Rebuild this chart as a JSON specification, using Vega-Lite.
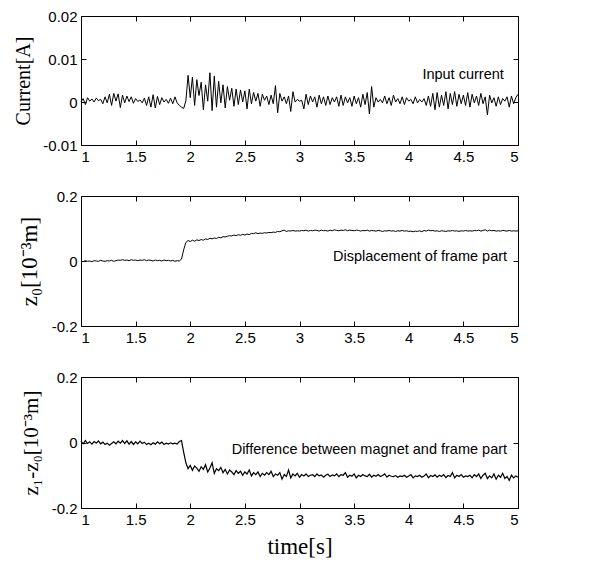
{
"$schema": "https://vega.github.io/schema/vega-lite/v6.json",
"padding": {"left": 12, "top": 8, "right": 6, "bottom": 5},
"background": "white",
"bounds": "flush",
"spacing": 51,
"config": {
  "view": {"stroke": "black", "strokeWidth": 1},
  "axis": {"grid": false, "domain": false, "tickColor": "black", "tickSize": -5, "labelPadding": 9,
           "labelFont": "Liberation Sans", "labelFontSize": 15, "labelColor": "black",
           "titleFont": "Liberation Serif", "titleFontSize": 20, "titleFontWeight": "normal", "titleColor": "black"}
},
"data": {"values": [
{"t":1.00,"c":0.0000,"z":0.000,"d":0.004},{"t":1.02,"c":0.0008,"z":-0.002,"d":-0.004},{"t":1.04,"c":-0.0006,"z":0.001,"d":0.006},{"t":1.06,"c":0.0010,"z":-0.001,"d":-0.003},{"t":1.08,"c":0.0002,"z":0.000,"d":0.002},
{"t":1.10,"c":0.0007,"z":-0.002,"d":-0.005},{"t":1.12,"c":0.0000,"z":0.001,"d":0.003},{"t":1.14,"c":0.0009,"z":0.000,"d":-0.002},{"t":1.16,"c":0.0003,"z":-0.001,"d":0.005},{"t":1.18,"c":0.0006,"z":0.002,"d":-0.004},
{"t":1.20,"c":-0.0004,"z":0.000,"d":0.001},{"t":1.22,"c":0.0012,"z":-0.001,"d":-0.006},{"t":1.24,"c":-0.0002,"z":0.001,"d":-0.002},{"t":1.26,"c":0.0018,"z":0.000,"d":-0.008},{"t":1.28,"c":-0.0008,"z":0.002,"d":-0.003},
{"t":1.30,"c":0.0020,"z":-0.001,"d":0.002},{"t":1.32,"c":0.0002,"z":0.001,"d":-0.004},{"t":1.34,"c":0.0019,"z":0.003,"d":0.004},{"t":1.36,"c":-0.0013,"z":0.002,"d":-0.002},{"t":1.38,"c":0.0016,"z":0.004,"d":0.006},
{"t":1.40,"c":-0.0002,"z":0.002,"d":-0.003},{"t":1.42,"c":0.0014,"z":0.003,"d":0.005},{"t":1.44,"c":0.0001,"z":0.001,"d":-0.005},{"t":1.46,"c":0.0012,"z":0.004,"d":0.003},{"t":1.48,"c":-0.0003,"z":0.002,"d":-0.006},
{"t":1.50,"c":0.0008,"z":0.003,"d":0.002},{"t":1.52,"c":0.0001,"z":0.001,"d":-0.004},{"t":1.54,"c":0.0005,"z":0.003,"d":0.004},{"t":1.56,"c":-0.0002,"z":0.002,"d":-0.003},{"t":1.58,"c":0.0009,"z":0.004,"d":0.001},
{"t":1.60,"c":-0.0008,"z":0.001,"d":-0.006},{"t":1.62,"c":0.0012,"z":0.003,"d":-0.002},{"t":1.64,"c":-0.0012,"z":0.002,"d":-0.007},{"t":1.66,"c":0.0017,"z":0.000,"d":-0.001},{"t":1.68,"c":-0.0014,"z":0.003,"d":-0.005},
{"t":1.70,"c":0.0013,"z":0.001,"d":0.002},{"t":1.72,"c":-0.0006,"z":0.002,"d":-0.004},{"t":1.74,"c":0.0010,"z":0.000,"d":0.001},{"t":1.76,"c":0.0000,"z":0.003,"d":-0.006},{"t":1.78,"c":0.0006,"z":0.001,"d":-0.002},
{"t":1.80,"c":-0.0003,"z":0.002,"d":-0.005},{"t":1.82,"c":0.0009,"z":0.000,"d":-0.001},{"t":1.84,"c":-0.0004,"z":0.002,"d":-0.004},{"t":1.86,"c":0.0012,"z":-0.001,"d":-0.002},{"t":1.88,"c":-0.0002,"z":0.001,"d":-0.005},
{"t":1.90,"c":-0.0008,"z":0.000,"d":0.003},{"t":1.92,"c":-0.0012,"z":0.006,"d":0.006},{"t":1.94,"c":-0.0015,"z":0.035,"d":-0.030},{"t":1.96,"c":0.0003,"z":0.057,"d":-0.062},{"t":1.98,"c":0.0062,"z":0.063,"d":-0.080},
{"t":2.00,"c":0.0010,"z":0.060,"d":-0.070},{"t":2.02,"c":0.0058,"z":0.064,"d":-0.085},{"t":2.04,"c":-0.0008,"z":0.061,"d":-0.072},{"t":2.06,"c":0.0052,"z":0.065,"d":-0.078},{"t":2.08,"c":0.0015,"z":0.063,"d":-0.088},
{"t":2.10,"c":0.0046,"z":0.066,"d":-0.074},{"t":2.12,"c":-0.0018,"z":0.064,"d":-0.082},{"t":2.14,"c":0.0040,"z":0.068,"d":-0.068},{"t":2.16,"c":0.0002,"z":0.066,"d":-0.090},{"t":2.18,"c":0.0068,"z":0.070,"d":-0.078},
{"t":2.20,"c":-0.0020,"z":0.068,"d":-0.062},{"t":2.22,"c":0.0060,"z":0.071,"d":-0.094},{"t":2.24,"c":-0.0012,"z":0.069,"d":-0.080},{"t":2.26,"c":0.0048,"z":0.073,"d":-0.086},{"t":2.28,"c":-0.0002,"z":0.071,"d":-0.076},
{"t":2.30,"c":0.0040,"z":0.075,"d":-0.092},{"t":2.32,"c":-0.0014,"z":0.074,"d":-0.082},{"t":2.34,"c":0.0036,"z":0.076,"d":-0.096},{"t":2.36,"c":0.0004,"z":0.078,"d":-0.084},{"t":2.38,"c":0.0032,"z":0.077,"d":-0.090},
{"t":2.40,"c":-0.0010,"z":0.080,"d":-0.098},{"t":2.42,"c":0.0030,"z":0.078,"d":-0.086},{"t":2.44,"c":-0.0006,"z":0.081,"d":-0.094},{"t":2.46,"c":0.0028,"z":0.079,"d":-0.088},{"t":2.48,"c":0.0000,"z":0.082,"d":-0.100},
{"t":2.50,"c":0.0026,"z":0.080,"d":-0.090},{"t":2.52,"c":-0.0016,"z":0.083,"d":-0.096},{"t":2.54,"c":0.0030,"z":0.081,"d":-0.084},{"t":2.56,"c":-0.0004,"z":0.085,"d":-0.102},{"t":2.58,"c":0.0022,"z":0.084,"d":-0.092},
{"t":2.60,"c":0.0002,"z":0.087,"d":-0.098},{"t":2.62,"c":0.0020,"z":0.084,"d":-0.090},{"t":2.64,"c":-0.0010,"z":0.086,"d":-0.104},{"t":2.66,"c":0.0018,"z":0.085,"d":-0.094},{"t":2.68,"c":0.0004,"z":0.087,"d":-0.100},
{"t":2.70,"c":0.0014,"z":0.086,"d":-0.092},{"t":2.72,"c":-0.0006,"z":0.088,"d":-0.098},{"t":2.74,"c":0.0016,"z":0.087,"d":-0.088},{"t":2.76,"c":-0.0004,"z":0.089,"d":-0.104},{"t":2.78,"c":0.0038,"z":0.088,"d":-0.096},
{"t":2.80,"c":-0.0025,"z":0.091,"d":-0.100},{"t":2.82,"c":0.0020,"z":0.090,"d":-0.092},{"t":2.84,"c":0.0002,"z":0.093,"d":-0.112},{"t":2.86,"c":0.0012,"z":0.095,"d":-0.098},{"t":2.88,"c":-0.0004,"z":0.091,"d":-0.104},
{"t":2.90,"c":0.0014,"z":0.093,"d":-0.084},{"t":2.92,"c":-0.0022,"z":0.092,"d":-0.108},{"t":2.94,"c":0.0024,"z":0.094,"d":-0.096},{"t":2.96,"c":0.0000,"z":0.092,"d":-0.102},{"t":2.98,"c":0.0006,"z":0.093,"d":-0.094},
{"t":3.00,"c":0.0002,"z":0.092,"d":-0.106},{"t":3.02,"c":0.0004,"z":0.094,"d":-0.098},{"t":3.04,"c":-0.0016,"z":0.093,"d":-0.102},{"t":3.06,"c":0.0018,"z":0.095,"d":-0.096},{"t":3.08,"c":-0.0006,"z":0.092,"d":-0.104},
{"t":3.10,"c":0.0014,"z":0.094,"d":-0.100},{"t":3.12,"c":0.0000,"z":0.093,"d":-0.098},{"t":3.14,"c":0.0012,"z":0.095,"d":-0.104},{"t":3.16,"c":-0.0012,"z":0.094,"d":-0.096},{"t":3.18,"c":0.0016,"z":0.092,"d":-0.102},
{"t":3.20,"c":-0.0004,"z":0.095,"d":-0.099},{"t":3.22,"c":0.0012,"z":0.093,"d":-0.106},{"t":3.24,"c":-0.0008,"z":0.094,"d":-0.100},{"t":3.26,"c":0.0014,"z":0.092,"d":-0.097},{"t":3.28,"c":-0.0006,"z":0.095,"d":-0.104},
{"t":3.30,"c":0.0010,"z":0.093,"d":-0.099},{"t":3.32,"c":0.0000,"z":0.096,"d":-0.102},{"t":3.34,"c":0.0012,"z":0.094,"d":-0.096},{"t":3.36,"c":-0.0010,"z":0.093,"d":-0.104},{"t":3.38,"c":0.0016,"z":0.095,"d":-0.098},
{"t":3.40,"c":-0.0008,"z":0.094,"d":-0.100},{"t":3.42,"c":0.0012,"z":0.096,"d":-0.092},{"t":3.44,"c":-0.0002,"z":0.093,"d":-0.106},{"t":3.46,"c":0.0010,"z":0.095,"d":-0.100},{"t":3.48,"c":-0.0010,"z":0.094,"d":-0.103},
{"t":3.50,"c":0.0014,"z":0.093,"d":-0.096},{"t":3.52,"c":-0.0004,"z":0.095,"d":-0.108},{"t":3.54,"c":0.0010,"z":0.094,"d":-0.100},{"t":3.56,"c":-0.0012,"z":0.092,"d":-0.104},{"t":3.58,"c":0.0018,"z":0.094,"d":-0.098},
{"t":3.60,"c":-0.0006,"z":0.093,"d":-0.102},{"t":3.62,"c":0.0022,"z":0.095,"d":-0.104},{"t":3.64,"c":-0.0028,"z":0.092,"d":-0.097},{"t":3.66,"c":0.0036,"z":0.094,"d":-0.106},{"t":3.68,"c":-0.0012,"z":0.093,"d":-0.100},
{"t":3.70,"c":0.0010,"z":0.092,"d":-0.103},{"t":3.72,"c":0.0000,"z":0.094,"d":-0.098},{"t":3.74,"c":0.0006,"z":0.093,"d":-0.104},{"t":3.76,"c":-0.0002,"z":0.091,"d":-0.101},{"t":3.78,"c":0.0014,"z":0.093,"d":-0.096},
{"t":3.80,"c":-0.0004,"z":0.092,"d":-0.106},{"t":3.82,"c":0.0010,"z":0.094,"d":-0.100},{"t":3.84,"c":-0.0008,"z":0.092,"d":-0.103},{"t":3.86,"c":0.0016,"z":0.093,"d":-0.104},{"t":3.88,"c":0.0000,"z":0.091,"d":-0.101},
{"t":3.90,"c":0.0008,"z":0.093,"d":-0.106},{"t":3.92,"c":-0.0004,"z":0.092,"d":-0.102},{"t":3.94,"c":0.0012,"z":0.094,"d":-0.104},{"t":3.96,"c":-0.0006,"z":0.092,"d":-0.100},{"t":3.98,"c":0.0010,"z":0.093,"d":-0.106},
{"t":4.00,"c":0.0002,"z":0.091,"d":-0.102},{"t":4.02,"c":0.0006,"z":0.092,"d":-0.098},{"t":4.04,"c":-0.0004,"z":0.090,"d":-0.108},{"t":4.06,"c":0.0012,"z":0.092,"d":-0.102},{"t":4.08,"c":-0.0002,"z":0.091,"d":-0.104},
{"t":4.10,"c":0.0006,"z":0.093,"d":-0.100},{"t":4.12,"c":0.0000,"z":0.090,"d":-0.106},{"t":4.14,"c":0.0008,"z":0.094,"d":-0.102},{"t":4.16,"c":-0.0008,"z":0.092,"d":-0.096},{"t":4.18,"c":0.0014,"z":0.095,"d":-0.108},
{"t":4.20,"c":-0.0010,"z":0.093,"d":-0.101},{"t":4.22,"c":0.0020,"z":0.094,"d":-0.104},{"t":4.24,"c":-0.0018,"z":0.092,"d":-0.099},{"t":4.26,"c":0.0022,"z":0.093,"d":-0.106},{"t":4.28,"c":-0.0012,"z":0.091,"d":-0.100},
{"t":4.30,"c":0.0016,"z":0.093,"d":-0.104},{"t":4.32,"c":-0.0008,"z":0.092,"d":-0.098},{"t":4.34,"c":0.0024,"z":0.091,"d":-0.107},{"t":4.36,"c":-0.0016,"z":0.093,"d":-0.101},{"t":4.38,"c":0.0020,"z":0.092,"d":-0.104},
{"t":4.40,"c":-0.0006,"z":0.094,"d":-0.092},{"t":4.42,"c":0.0024,"z":0.092,"d":-0.108},{"t":4.44,"c":-0.0010,"z":0.093,"d":-0.100},{"t":4.46,"c":0.0018,"z":0.091,"d":-0.104},{"t":4.48,"c":-0.0004,"z":0.093,"d":-0.098},
{"t":4.50,"c":0.0016,"z":0.092,"d":-0.106},{"t":4.52,"c":-0.0008,"z":0.094,"d":-0.102},{"t":4.54,"c":0.0022,"z":0.092,"d":-0.104},{"t":4.56,"c":-0.0012,"z":0.093,"d":-0.100},{"t":4.58,"c":0.0018,"z":0.092,"d":-0.108},
{"t":4.60,"c":-0.0002,"z":0.094,"d":-0.098},{"t":4.62,"c":0.0014,"z":0.093,"d":-0.104},{"t":4.64,"c":-0.0008,"z":0.095,"d":-0.096},{"t":4.66,"c":0.0020,"z":0.092,"d":-0.110},{"t":4.68,"c":-0.0004,"z":0.094,"d":-0.100},
{"t":4.70,"c":0.0012,"z":0.096,"d":-0.094},{"t":4.72,"c":-0.0030,"z":0.092,"d":-0.110},{"t":4.74,"c":0.0016,"z":0.095,"d":-0.102},{"t":4.76,"c":-0.0002,"z":0.093,"d":-0.108},{"t":4.78,"c":0.0010,"z":0.094,"d":-0.096},
{"t":4.80,"c":-0.0010,"z":0.092,"d":-0.112},{"t":4.82,"c":0.0012,"z":0.093,"d":-0.100},{"t":4.84,"c":-0.0006,"z":0.092,"d":-0.106},{"t":4.86,"c":0.0008,"z":0.094,"d":-0.094},{"t":4.88,"c":0.0002,"z":0.093,"d":-0.110},
{"t":4.90,"c":0.0012,"z":0.092,"d":-0.104},{"t":4.92,"c":-0.0012,"z":0.094,"d":-0.116},{"t":4.94,"c":0.0014,"z":0.092,"d":-0.100},{"t":4.96,"c":-0.0004,"z":0.093,"d":-0.108},{"t":4.98,"c":0.0010,"z":0.092,"d":-0.102},
{"t":5.00,"c":0.0018,"z":0.093,"d":-0.106}
]},
"vconcat": [
{
 "width": 437, "height": 129,
 "layer": [
  {"mark": {"type": "line", "color": "black", "strokeWidth": 1},
   "encoding": {
    "x": {"field": "t", "type": "quantitative", "scale": {"domain": [1, 5], "nice": false, "zero": false},
          "axis": {"orient": "bottom", "values": [1, 1.5, 2, 2.5, 3, 3.5, 4, 4.5, 5], "format": "~g", "title": null}},
    "y": {"field": "c", "type": "quantitative", "scale": {"domain": [-0.01, 0.02], "nice": false, "zero": false},
          "axis": {"orient": "left", "values": [-0.01, 0, 0.01, 0.02], "title": "Current[A]", "minExtent": 44, "maxExtent": 44,
                   "labelExpr": "replace(format(datum.value, '~g'), '\u2212', '-')"}}
   }},
  {"mark": {"type": "line", "strokeOpacity": 0},
   "encoding": {
    "x": {"field": "t", "type": "quantitative", "axis": {"orient": "top", "values": [1, 1.5, 2, 2.5, 3, 3.5, 4, 4.5, 5], "labels": false, "title": null}},
    "y": {"field": "c", "type": "quantitative", "axis": {"orient": "right", "values": [-0.01, 0, 0.01, 0.02], "labels": false, "title": null}}
   }},
  {"data": {"values": [{"label": "Input current"}]},
   "mark": {"type": "text", "align": "right", "baseline": "middle", "font": "Liberation Sans", "fontSize": 14.5, "color": "black"},
   "encoding": {
    "x": {"datum": 4.87, "type": "quantitative", "axis": null},
    "y": {"datum": 0.0063, "type": "quantitative", "axis": null},
    "text": {"field": "label"}
   }}
 ],
 "resolve": {"axis": {"x": "independent", "y": "independent"}}
},
{
 "width": 437, "height": 130,
 "layer": [
  {"mark": {"type": "line", "color": "black", "strokeWidth": 1},
   "encoding": {
    "x": {"field": "t", "type": "quantitative", "scale": {"domain": [1, 5], "nice": false, "zero": false},
          "axis": {"orient": "bottom", "values": [1, 1.5, 2, 2.5, 3, 3.5, 4, 4.5, 5], "format": "~g", "title": null}},
    "y": {"field": "z", "type": "quantitative", "scale": {"domain": [-0.2, 0.2], "nice": false, "zero": false},
          "axis": {"orient": "left", "values": [-0.2, 0, 0.2], "title": "z₀[10⁻³m]", "titleFontSize": 23, "minExtent": 36, "maxExtent": 36,
                   "labelExpr": "replace(format(datum.value, '~g'), '\u2212', '-')"}}
   }},
  {"mark": {"type": "line", "strokeOpacity": 0},
   "encoding": {
    "x": {"field": "t", "type": "quantitative", "axis": {"orient": "top", "values": [1, 1.5, 2, 2.5, 3, 3.5, 4, 4.5, 5], "labels": false, "title": null}},
    "y": {"field": "z", "type": "quantitative", "axis": {"orient": "right", "values": [-0.2, 0, 0.2], "labels": false, "title": null}}
   }},
  {"data": {"values": [{"label": "Displacement of frame part"}]},
   "mark": {"type": "text", "align": "right", "baseline": "middle", "font": "Liberation Sans", "fontSize": 14.5, "color": "black"},
   "encoding": {
    "x": {"datum": 4.9, "type": "quantitative", "axis": null},
    "y": {"datum": 0.012, "type": "quantitative", "axis": null},
    "text": {"field": "label"}
   }}
 ],
 "resolve": {"axis": {"x": "independent", "y": "independent"}}
},
{
 "width": 437, "height": 131,
 "layer": [
  {"mark": {"type": "line", "color": "black", "strokeWidth": 1.2},
   "encoding": {
    "x": {"field": "t", "type": "quantitative", "scale": {"domain": [1, 5], "nice": false, "zero": false},
          "axis": {"orient": "bottom", "values": [1, 1.5, 2, 2.5, 3, 3.5, 4, 4.5, 5], "format": "~g", "title": "time[s]", "titleFontSize": 23, "titlePadding": 8}},
    "y": {"field": "d", "type": "quantitative", "scale": {"domain": [-0.2, 0.2], "nice": false, "zero": false},
          "axis": {"orient": "left", "values": [-0.2, 0, 0.2], "title": "z₁-z₀[10⁻³m]", "titleFontSize": 21, "minExtent": 36, "maxExtent": 36,
                   "labelExpr": "replace(format(datum.value, '~g'), '\u2212', '-')"}}
   }},
  {"mark": {"type": "line", "strokeOpacity": 0},
   "encoding": {
    "x": {"field": "t", "type": "quantitative", "axis": {"orient": "top", "values": [1, 1.5, 2, 2.5, 3, 3.5, 4, 4.5, 5], "labels": false, "title": null}},
    "y": {"field": "d", "type": "quantitative", "axis": {"orient": "right", "values": [-0.2, 0, 0.2], "labels": false, "title": null}}
   }},
  {"data": {"values": [{"label": "Difference between magnet and frame part"}]},
   "mark": {"type": "text", "align": "right", "baseline": "middle", "font": "Liberation Sans", "fontSize": 14.5, "color": "black"},
   "encoding": {
    "x": {"datum": 4.9, "type": "quantitative", "axis": null},
    "y": {"datum": -0.024, "type": "quantitative", "axis": null},
    "text": {"field": "label"}
   }}
 ],
 "resolve": {"axis": {"x": "independent", "y": "independent"}}
}
]
}
